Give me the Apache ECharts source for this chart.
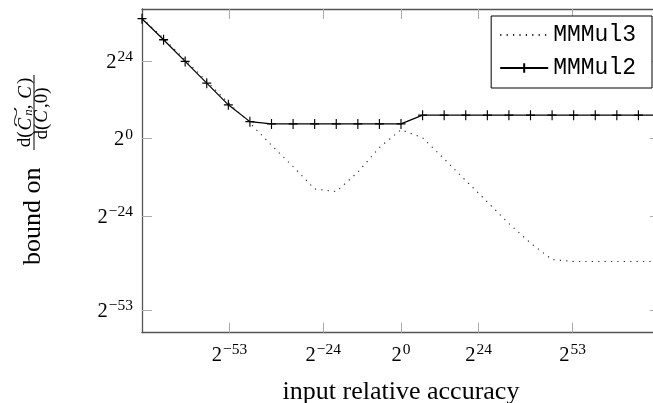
<!DOCTYPE html>
<html><head><meta charset="utf-8">
<script src="https://cdn.jsdelivr.net/npm/echarts@6/dist/echarts.min.js"></script>
<style>html,body{margin:0;padding:0;background:#fff}#c{width:653px;height:403px}</style>
</head><body><div id="c"></div>
<script>
// log2 of input relative accuracy (sample positions)
const xValues = [-80, -73.33, -66.67, -60, -53.33, -46.67, -40, -33.33, -26.67, -20, -13.33, -6.67, 0,
                 6.67, 13.33, 20, 26.67, 33.33, 40, 46.67, 53.33, 60, 66.67, 73.33, 80];
// log2 of bound
const mmmul3 = [37.2, 30.9, 24.3, 17.7, 11.0, 4.8, -2.1, -8.7, -15.6, -16.4, -10.4, -2.8, 2.7,
                0.2, -6.3, -13, -19.6, -26.3, -32.3, -37.4, -38, -38, -38, -38, -38];
const mmmul2 = [37, 30.5, 23.8, 17.1, 10.4, 5.2, 4.5, 4.5, 4.5, 4.5, 4.5, 4.5, 4.5,
                7.2, 7.2, 7.2, 7.2, 7.2, 7.2, 7.2, 7.2, 7.2, 7.2, 7.2, 7.2];
const xTicks = [-53, -24, 0, 24, 53];
const yTicks = [-53, -24, 0, 24];
const seriesNames = ['MMMul3', 'MMMul2'];
const xTitle = 'input relative accuracy';
const yTitleText = 'bound on';

const SERIF = 'Liberation Serif';
const AXIS_COL = '#555';
const TICK_COL = '#aaa';

function powLabel(v) {
  const e = v < 0 ? '\u2212' + (-v) : String(v);
  return '{b|2}{s|' + e + '}';
}
const powRich = {
  b: { fontSize: 20.5, fontFamily: SERIF, color: '#000', verticalAlign: 'bottom' },
  s: { fontSize: 15.5, fontFamily: SERIF, color: '#000', verticalAlign: 'top', padding: [0, 0, 8, 1] }
};

const chart = echarts.init(document.getElementById('c'), null, { renderer: 'canvas' });

const baseAxisLine = { show: true, onZero: false, lineStyle: { color: AXIS_COL, width: 1.3 } };
const tickStyle = { color: TICK_COL, width: 1 };

const option = {
  animation: false,
  backgroundColor: '#fff',
  grid: { left: 142, top: 9, width: 518, height: 323.7, containLabel: false, outerBoundsMode: 'none' },
  xAxis: [
    {
      type: 'value', min: -80, max: 80, position: 'bottom',
      axisLine: baseAxisLine, splitLine: { show: false },
      axisTick: { show: true, inside: true, length: 10, customValues: xTicks, lineStyle: tickStyle },
      axisLabel: { customValues: xTicks, formatter: powLabel, rich: powRich, margin: 9 },
      name: xTitle, nameLocation: 'middle', nameGap: 46,
      nameTextStyle: { fontFamily: SERIF, fontSize: 26, color: '#000' }
    },
    {
      type: 'value', min: -80, max: 80, position: 'top',
      axisLine: baseAxisLine, splitLine: { show: false },
      axisTick: { show: true, inside: true, length: 10, customValues: xTicks, lineStyle: tickStyle },
      axisLabel: { show: false }
    }
  ],
  yAxis: [
    {
      type: 'value', min: -60, max: 40, position: 'left',
      axisLine: baseAxisLine, splitLine: { show: false },
      axisTick: { show: true, inside: true, length: 10, customValues: yTicks, lineStyle: tickStyle },
      axisLabel: { customValues: yTicks, formatter: powLabel, rich: powRich, margin: 9 }
    },
    {
      type: 'value', min: -60, max: 40, position: 'right',
      axisLine: baseAxisLine, splitLine: { show: false },
      axisTick: { show: true, inside: true, length: 10, customValues: yTicks, lineStyle: tickStyle },
      axisLabel: { show: false }
    }
  ],
  legend: {
    orient: 'vertical', right: 1, top: 16,
    data: seriesNames,
    backgroundColor: '#fff',
    borderColor: '#000', borderWidth: 1, borderRadius: 0,
    padding: [6, 16, 7, 8],
    itemWidth: 48, itemHeight: 12, itemGap: 7,
    textStyle: { fontFamily: 'Liberation Mono', fontSize: 23, color: '#000', lineHeight: 26 }
  },
  series: [
    {
      name: seriesNames[0], type: 'line', xAxisIndex: 0, yAxisIndex: 0,
      data: xValues.map((x, i) => [x, mmmul3[i]]),
      symbol: 'none', z: 2,
      lineStyle: { color: '#222', width: 1.1, type: [1.2, 5.2] },
      itemStyle: { color: 'rgba(0,0,0,0)', borderColor: 'rgba(0,0,0,0)' }
    },
    {
      name: seriesNames[1], type: 'line', xAxisIndex: 0, yAxisIndex: 0,
      data: xValues.map((x, i) => [x, mmmul2[i]]),
      symbol: 'path://M0,5L10,5M5,0L5,10', symbolSize: [9, 10], showAllSymbol: true, z: 3,
      lineStyle: { color: '#000', width: 1.2 },
      itemStyle: { color: '#000', borderColor: '#000', borderWidth: 1.2 }
    }
  ],
  graphic: [
    {
      type: 'group', x: 32, y: 172, rotation: Math.PI / 2,
      children: [
        { type: 'text', x: -93, y: 1,
          style: { text: yTitleText, fontFamily: SERIF, fontSize: 26, fill: '#000', align: 'left', verticalAlign: 'middle' } },
        { type: 'text', x: 59.5, y: -6.5,
          style: {
            text: '{n|d(}{i|C}{sub|n}{n|, }{i|C}{n|)}',
            align: 'center', verticalAlign: 'middle',
            rich: {
              n: { fontFamily: SERIF, fontSize: 19, fill: '#000', verticalAlign: 'middle' },
              i: { fontFamily: SERIF, fontSize: 19, fontStyle: 'italic', fill: '#000', padding: [0, 2, 0, 1] },
              sub: { fontFamily: SERIF, fontSize: 13, fontStyle: 'italic', fill: '#000', verticalAlign: 'bottom', padding: [6, 0, 0, 0] }
            }
          } },
        { type: 'text', x: 55, y: -15, scaleX: 2.6,
          style: { text: '~', fontFamily: SERIF, fontSize: 15, fill: '#000', align: 'center', verticalAlign: 'middle' } },
        { type: 'line', shape: { x1: 22, y1: 2, x2: 97, y2: 2 }, style: { stroke: '#000', lineWidth: 1 } },
        { type: 'text', x: 58.5, y: 10,
          style: {
            text: '{n|d(}{i|C}{n|,0)}',
            align: 'center', verticalAlign: 'middle',
            rich: {
              n: { fontFamily: SERIF, fontSize: 19, fill: '#000' },
              i: { fontFamily: SERIF, fontSize: 19, fontStyle: 'italic', fill: '#000', padding: [0, 2, 0, 1] }
            }
          } }
      ]
    }
  ]
};
chart.setOption(option);
</script>
</body></html>
